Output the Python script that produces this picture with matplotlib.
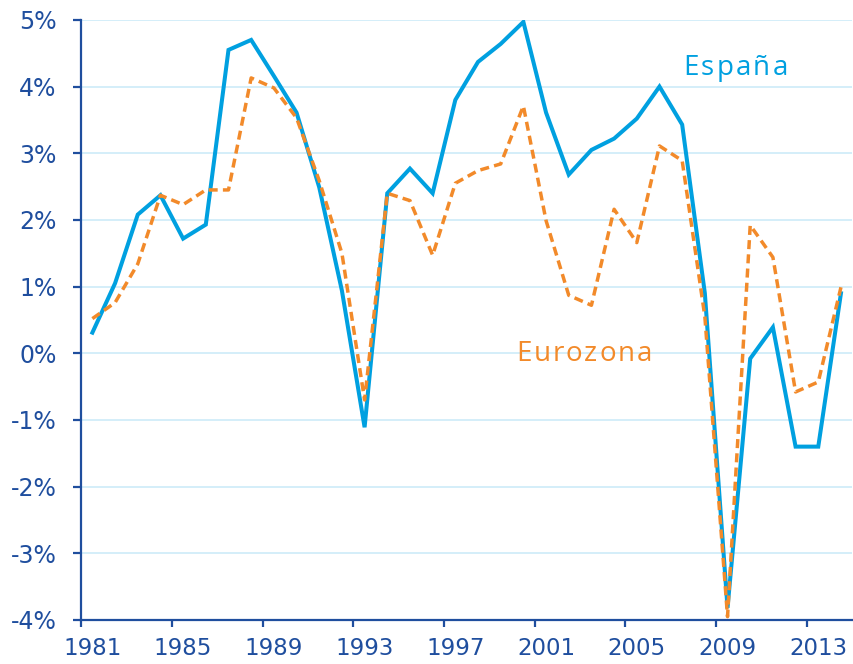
import matplotlib
matplotlib.use("Agg")
import matplotlib.pyplot as plt
from matplotlib import font_manager as fm
from matplotlib.ticker import FixedLocator, FuncFormatter
from matplotlib.transforms import offset_copy

years = list(range(1981, 2015))
espana = [0.31, 1.05, 2.08, 2.37, 1.72, 1.93, 4.55, 4.70, 4.16, 3.61, 2.49, 0.94, -1.11,
          2.40, 2.77, 2.40, 3.80, 4.37, 4.64, 4.97, 3.61, 2.68, 3.05, 3.22, 3.52, 4.00,
          3.43, 0.90, -3.82, -0.08, 0.39, -1.40, -1.40, 0.90]
eurozona = [0.52, 0.76, 1.34, 2.37, 2.23, 2.45, 2.45, 4.13, 3.98, 3.53, 2.59, 1.50, -0.70,
            2.40, 2.29, 1.47, 2.55, 2.74, 2.84, 3.71, 1.99, 0.87, 0.72, 2.16, 1.66, 3.11,
            2.89, 0.55, -3.95, 1.92, 1.44, -0.58, -0.43, 0.99]
xtick_years = [1981, 1985, 1989, 1993, 1997, 2001, 2005, 2009, 2013]
xtick_labels = ["1981", "1985", "1989", "1993", "1997", "2001", "2005", "2009", "2013"]
yticks = list(range(-4, 6))
label_es = "España"
label_ez = "Eurozona"

avail = {f.name for f in fm.fontManager.ttflist}
label_font = ["Open Sans", "DejaVu Sans"] if "Open Sans" in avail else ["DejaVu Sans"]

axis_col = "#1F4E9E"
blue = "#00A0E0"
orange = "#F28A2A"
grid_col = "#CDEBF8"

fig = plt.figure(figsize=(8.54, 6.64), dpi=100)
ax = fig.add_axes([0.0949, 0.0663, 0.9031, 0.9037])

ax.plot(years, espana, color=blue, lw=2.9, solid_joinstyle="miter", zorder=3)
ax.plot(years, eurozona, color=orange, lw=2.5, dashes=(2.6, 1.5), zorder=4)

ax.set_xlim(1980.5, 2014.5)
ax.set_ylim(-4, 5)
ax.xaxis.set_major_locator(FixedLocator(xtick_years))
ax.set_xticklabels(xtick_labels)
ax.xaxis.set_minor_locator(FixedLocator([y - 0.5 for y in xtick_years]))
ax.yaxis.set_major_locator(FixedLocator(yticks))
ax.yaxis.set_major_formatter(FuncFormatter(lambda v, p: f"{int(round(v))}%"))

ax.grid(axis="y", color=grid_col, lw=1.2, zorder=0)
ax.set_axisbelow(True)
for s in ["top", "right"]:
    ax.spines[s].set_visible(False)
for s in ["left", "bottom"]:
    ax.spines[s].set_color(axis_col)
    ax.spines[s].set_linewidth(1.6)
ax.tick_params(axis="both", which="both", direction="out", width=1.6, color=axis_col,
               labelcolor=axis_col)
ax.tick_params(axis="y", which="major", length=5.5, pad=12, labelsize=17)
ax.tick_params(axis="x", which="major", length=0, pad=12.5, labelsize=16.5)
ax.tick_params(axis="x", which="minor", length=5)


def spaced_text(x, y, s, color, size, spacing_pt):
    renderer = fig.canvas.get_renderer()
    off = 0.0
    for ch in s:
        tr = offset_copy(ax.transData, fig=fig, x=off, y=0, units="points")
        t = ax.text(x, y, ch, color=color, fontsize=size, family=label_font,
                    ha="left", va="baseline", transform=tr, zorder=5)
        w = t.get_window_extent(renderer=renderer).width * 72.0 / fig.dpi
        off += w + spacing_pt


spaced_text(2007.05, 4.17, label_es, blue, 20, 1.6)
spaced_text(1999.7, -0.11, label_ez, orange, 20, 1.3)

fig.savefig("out.png", dpi=100)
